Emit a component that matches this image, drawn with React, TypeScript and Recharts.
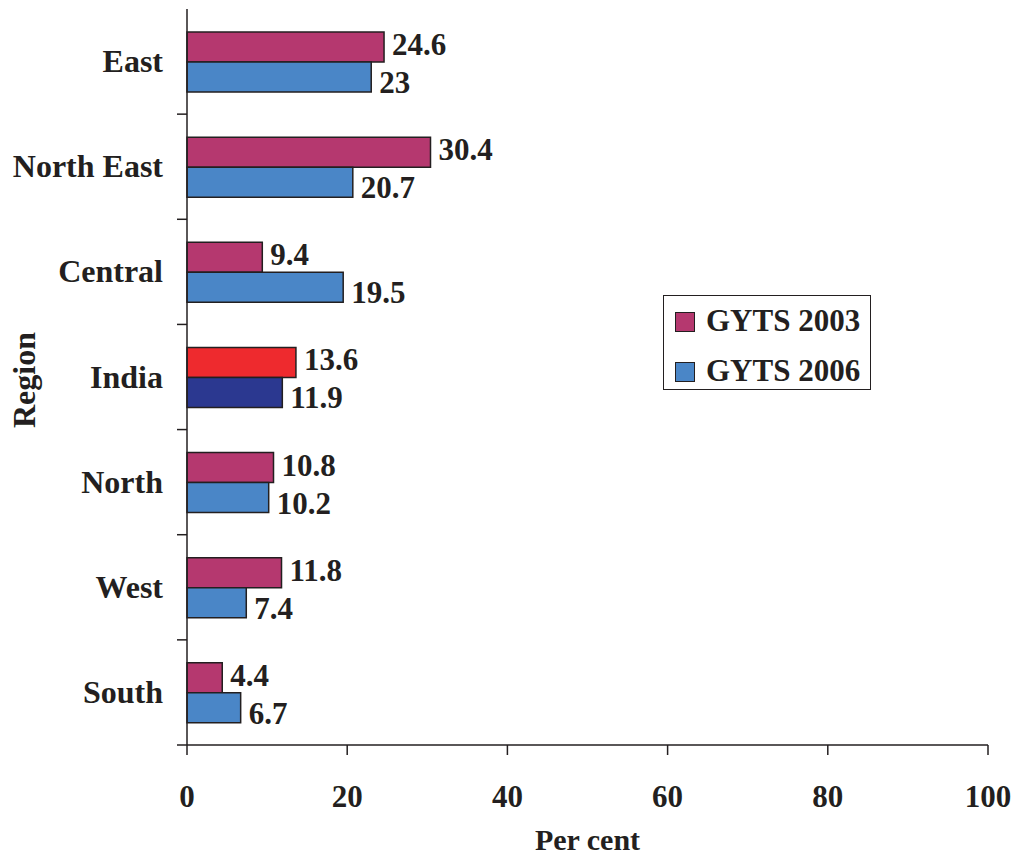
import React from 'react';
import { BarChart, Bar, XAxis, YAxis, Legend, Cell } from 'recharts';

const regions = ['East', 'North East', 'Central', 'India', 'North', 'West', 'South'];
const gyts2003 = [24.6, 30.4, 9.4, 13.6, 10.8, 11.8, 4.4];
const gyts2006 = [23, 20.7, 19.5, 11.9, 10.2, 7.4, 6.7];
const xTicks = [0, 20, 40, 60, 80, 100];
const seriesNames = ['GYTS 2003', 'GYTS 2006'];
const highlightRegion = 'India';

const data = regions.map((name, i) => ({ name, g2003: gyts2003[i], g2006: gyts2006[i] }));

const INK = '#231F20';
const PINK = '#B5386F';
const BLUE = '#4A86C7';
const RED = '#EE2A2E';
const NAVY = '#2B3890';
const FONT = '"Liberation Serif", "Times New Roman", serif';

const W = 1007;
const H = 847;

const YTick = (props: any) => {
  const { x, y, payload } = props;
  const half = payload && typeof payload.offset === 'number' && payload.offset > 0 ? payload.offset : 52.55;
  return (
    <g>
      <line x1={x - 10} x2={x} y1={y + half} y2={y + half} stroke={INK} strokeWidth={1.5} />
      <text x={x - 24} y={y + 10.5} textAnchor="end" fontFamily={FONT} fontWeight="bold" fontSize={32} fill={INK}>
        {payload.value}
      </text>
    </g>
  );
};

const XTick = (props: any) => {
  const { x, y, payload } = props;
  return (
    <text x={x} y={y + 50} textAnchor="middle" fontFamily={FONT} fontWeight="bold" fontSize={31} fill={INK}>
      {payload.value}
    </text>
  );
};

const makeLabel = (dy: number) => (props: any) => {
  const { x, y, width, height, value } = props;
  return (
    <text x={x + width + 8} y={y + height / 2 + 10 + dy} textAnchor="start" fontFamily={FONT} fontWeight="bold" fontSize={31} fill={INK}>
      {value}
    </text>
  );
};

const LegendBox = () => (
  <div
    style={{
      position: 'relative',
      width: 208,
      height: 95,
      border: `1.5px solid ${INK}`,
      boxSizing: 'border-box',
      background: '#fff',
      fontFamily: FONT,
      fontWeight: 'bold',
      fontSize: 31,
      color: INK,
    }}
  >
    {seriesNames.map((n, i) => (
      <div key={n}>
        <div
          style={{
            position: 'absolute',
            left: 11,
            top: 16 + i * 50,
            width: 20,
            height: 20,
            boxSizing: 'border-box',
            border: `1.5px solid ${INK}`,
            background: i === 0 ? PINK : BLUE,
          }}
        />
        <div style={{ position: 'absolute', left: 42, top: 5 + i * 50, lineHeight: '40px', whiteSpace: 'nowrap' }}>{n}</div>
      </div>
    ))}
  </div>
);

export default function App() {
  return (
    <div style={{ position: 'absolute', left: 8, top: 8, width: W, height: H, background: '#fff' }}>
      <BarChart
        width={W}
        height={H}
        data={data}
        layout="vertical"
        margin={{ top: 1, right: 27, left: 0, bottom: 0 }}
        barGap={0}
        barSize={30}
        style={{ overflow: 'visible' }}
      >
        <XAxis
          type="number"
          domain={[0, 100]}
          ticks={xTicks}
          interval={0}
          height={110}
          tickSize={10}
          tickMargin={2}
          stroke={INK}
          strokeWidth={1.5}
          tick={<XTick />}
          label={{
            content: (p: any) => {
              const vb = p.viewBox || { x: 179, y: 737, width: 801, height: 110 };
              return (
                <text x={vb.x + vb.width / 2} y={842} textAnchor="middle" fontFamily={FONT} fontWeight="bold" fontSize={30} fill={INK}>
                  Per cent
                </text>
              );
            },
          }}
        />
        <YAxis
          type="category"
          dataKey="name"
          width={179}
          tickSize={0}
          tickMargin={0}
          tickLine={false}
          stroke={INK}
          strokeWidth={1.5}
          interval={0}
          tick={<YTick />}
          label={{
            content: () => (
              <text
                x={27}
                y={372}
                transform="rotate(-90 27 372)"
                textAnchor="middle"
                fontFamily={FONT}
                fontWeight="bold"
                fontSize={32}
                fill={INK}
              >
                Region
              </text>
            ),
          }}
        />
        <Legend
          layout="vertical"
          align="center"
          verticalAlign="middle"
          content={() => <LegendBox />}
          wrapperStyle={{ left: 655, top: 287, width: 208, height: 95 }}
        />
        <Bar dataKey="g2003" name={seriesNames[0]} fill={PINK} stroke={INK} strokeWidth={1.5} isAnimationActive={false} label={makeLabel(-2)}>
          {data.map((d) => (
            <Cell key={d.name} fill={d.name === highlightRegion ? RED : PINK} />
          ))}
        </Bar>
        <Bar dataKey="g2006" name={seriesNames[1]} fill={BLUE} stroke={INK} strokeWidth={1.5} isAnimationActive={false} label={makeLabel(6)}>
          {data.map((d) => (
            <Cell key={d.name} fill={d.name === highlightRegion ? NAVY : BLUE} />
          ))}
        </Bar>
      </BarChart>
    </div>
  );
}
